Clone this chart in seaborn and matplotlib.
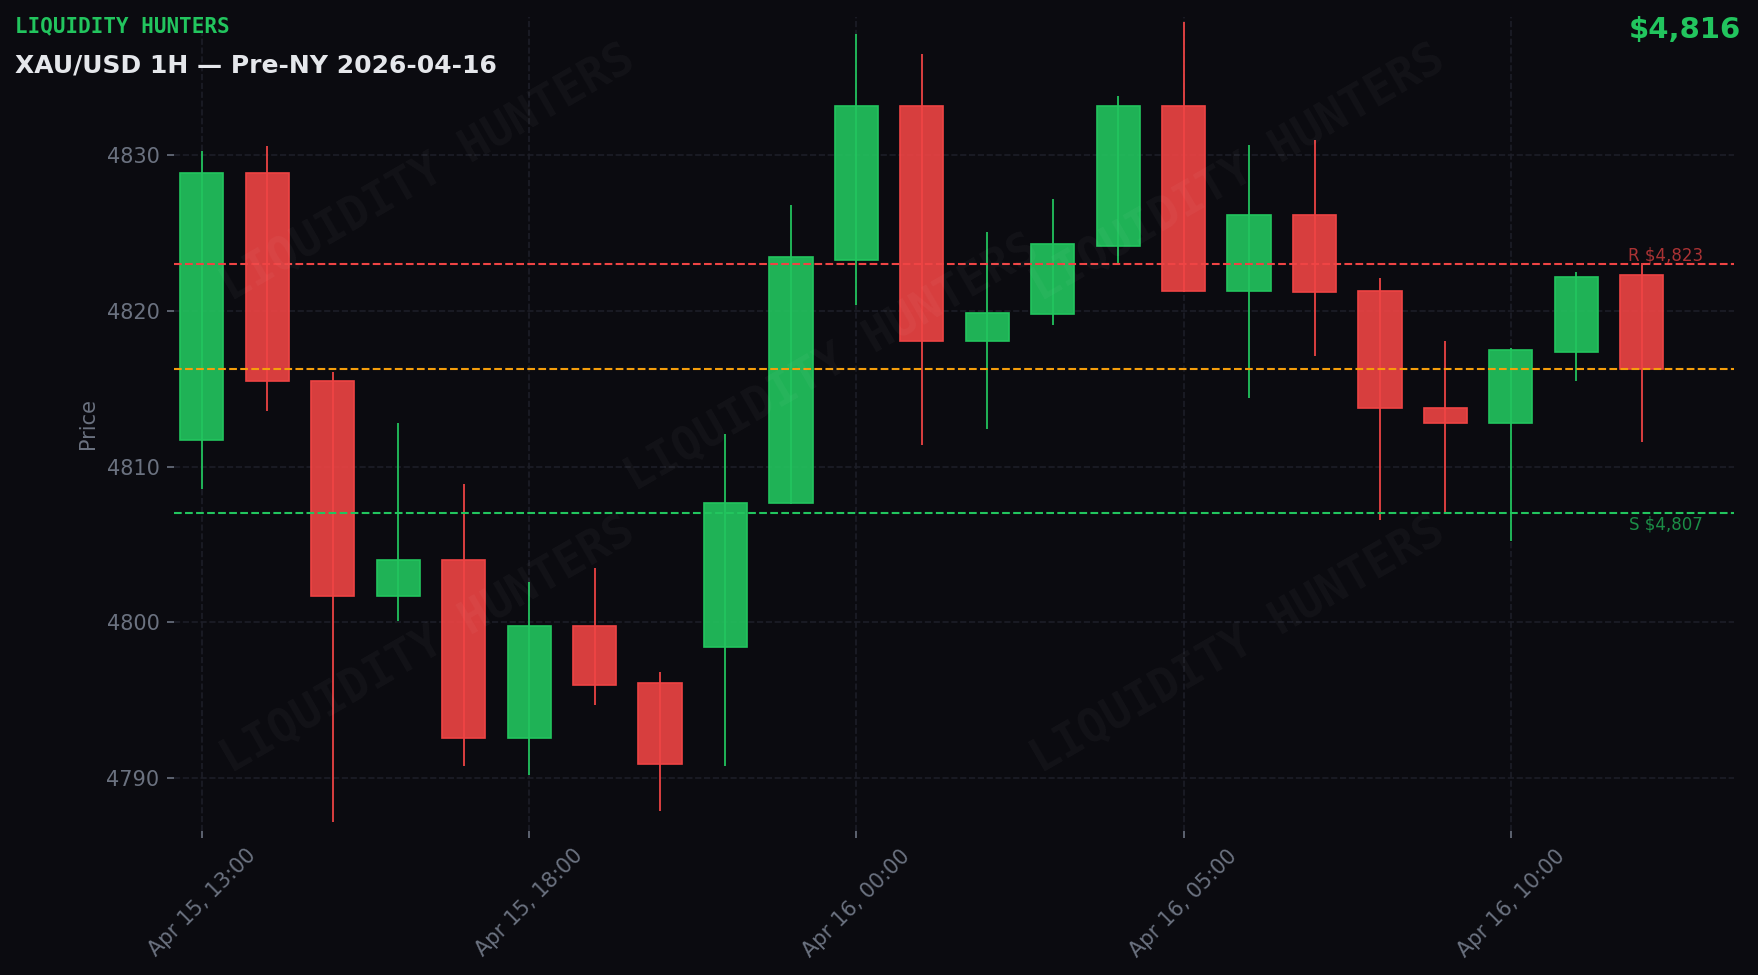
import matplotlib
matplotlib.use("Agg")
import matplotlib.pyplot as plt
import matplotlib.transforms as mtransforms
import seaborn as sns
import numpy as np
import pandas as pd

# ---- data ----
times = ["Apr 15, 13:00", "Apr 15, 14:00", "Apr 15, 15:00", "Apr 15, 16:00", "Apr 15, 17:00",
         "Apr 15, 18:00", "Apr 15, 19:00", "Apr 15, 20:00", "Apr 15, 22:00", "Apr 15, 23:00",
         "Apr 16, 00:00", "Apr 16, 01:00", "Apr 16, 02:00", "Apr 16, 03:00", "Apr 16, 04:00",
         "Apr 16, 05:00", "Apr 16, 06:00", "Apr 16, 07:00", "Apr 16, 08:00", "Apr 16, 09:00",
         "Apr 16, 10:00", "Apr 16, 11:00", "Apr 16, 12:00"]
opens = [4811.7, 4828.9, 4815.5, 4801.7, 4804.0, 4792.6, 4799.8, 4796.1, 4798.4, 4807.7,
         4823.3, 4833.2, 4818.1, 4819.8, 4824.2, 4833.2, 4821.3, 4826.2, 4821.3, 4813.8,
         4812.8, 4817.4, 4822.3]
closes = [4828.9, 4815.5, 4801.7, 4804.0, 4792.6, 4799.8, 4796.0, 4790.9, 4807.7, 4823.5,
          4833.2, 4818.1, 4819.9, 4824.3, 4833.2, 4821.3, 4826.2, 4821.2, 4813.8, 4812.8,
          4817.5, 4822.2, 4816.3]
highs = [4830.3, 4830.6, 4816.1, 4812.8, 4808.9, 4802.6, 4803.5, 4796.8, 4812.1, 4826.8,
         4837.8, 4836.5, 4825.1, 4827.2, 4833.8, 4838.6, 4830.7, 4831.0, 4822.1, 4818.1,
         4817.6, 4822.5, 4823.1]
lows = [4808.6, 4813.6, 4787.2, 4800.1, 4790.8, 4790.2, 4794.7, 4787.9, 4790.8, 4807.6,
        4820.4, 4811.4, 4812.4, 4819.1, 4823.0, 4821.2, 4814.4, 4817.1, 4806.6, 4807.0,
        4805.2, 4815.5, 4811.6]
resistance = 4823.0
support = 4807.0
yticks = [4790, 4800, 4810, 4820, 4830]
tick_every = 5

# ---- style ----
BG = "#0b0b10"
GREEN = "#22c55e"
RED = "#ef4444"
ORANGE = "#f59e0b"
GREY = "#6b7280"
GRID = "#1d1e27"

sns.set_theme(style="dark")
plt.rcParams["font.family"] = ["DejaVu Sans"]

df = pd.DataFrame({"time": times, "open": opens, "close": closes, "high": highs, "low": lows})
df["idx"] = np.arange(len(df))
df["up"] = df["close"] >= df["open"]
last_close = df["close"].iloc[-1]

fig = plt.figure(figsize=(11.72, 6.5), dpi=150, facecolor=BG)
ax = fig.add_axes([0.099, 0.1477, 0.8874, 0.8349])
ax.set_facecolor(BG)

colors = np.where(df["up"], GREEN, RED)

# wicks
ax.vlines(df["idx"], df["low"], df["high"], colors=colors, linewidth=0.85, zorder=3)
# bodies
body_bottom = np.minimum(df["open"], df["close"])
body_height = np.abs(df["close"] - df["open"])
bars = ax.bar(df["idx"], body_height, bottom=body_bottom, width=0.66,
              color=colors, edgecolor=colors, linewidth=0.8, zorder=4)
for b in bars:
    fc = b.get_facecolor()
    b.set_facecolor((fc[0], fc[1], fc[2], 0.9))

# level lines
ax.axhline(resistance, color=RED, linestyle="--", linewidth=1.0, zorder=5)
ax.axhline(support, color=GREEN, linestyle="--", linewidth=1.0, zorder=5)
ax.axhline(last_close, color=ORANGE, linestyle="--", linewidth=1.0, zorder=5)

trans = mtransforms.blended_transform_factory(ax.transAxes, ax.transData)
ax.text(0.98, resistance + 0.02, f"R ${resistance:,.0f}", transform=trans, ha="right", va="bottom",
        color=RED, alpha=0.7, fontsize=8, zorder=6)
ax.text(0.98, support - 0.1, f"S ${support:,.0f}", transform=trans, ha="right", va="top",
        color=GREEN, alpha=0.7, fontsize=8, zorder=6)

# axes formatting
ax.set_xlim(-0.425, 23.41)
ax.set_ylim(4786.6, 4838.9)
ax.set_yticks(yticks)
xt = list(range(0, len(df), tick_every))
ax.set_xticks(xt)
ax.set_xticklabels([times[i] for i in xt], rotation=45, ha="center")
ax.tick_params(axis="both", colors=GREY, labelcolor=GREY, labelsize=10, length=3.5, width=0.8,
               bottom=True, left=True)
ax.set_ylabel("Price", color=GREY, fontsize=10)
ax.grid(True, color=GRID, linestyle="--", linewidth=0.8, zorder=0)
for s in ax.spines.values():
    s.set_visible(False)

# watermarks
wm_pos = [(0.163, 0.808), (0.682, 0.808), (0.422, 0.575), (0.163, 0.2285), (0.682, 0.2285)]
for (x, y) in wm_pos:
    ax.text(x, y, "LIQUIDITY HUNTERS", transform=ax.transAxes, rotation=30,
            ha="center", va="center", fontsize=22, fontweight="bold",
            family="DejaVu Sans Mono", color="white", alpha=0.035, zorder=10)

# header texts
fig.text(0.0085, 0.9830, "LIQUIDITY HUNTERS", ha="left", va="top", fontsize=10,
         fontweight="bold", family="DejaVu Sans Mono", color=GREEN)
fig.text(0.0085, 0.9450, "XAU/USD 1H \u2014 Pre-NY 2026-04-16", ha="left", va="top",
         fontsize=12, fontweight="bold", color="#e5e7eb")
fig.text(0.9903, 0.9840, f"${last_close:,.0f}", ha="right", va="top", fontsize=14,
         fontweight="bold", color=GREEN)

fig.savefig("out.png", dpi=150, facecolor=BG)
